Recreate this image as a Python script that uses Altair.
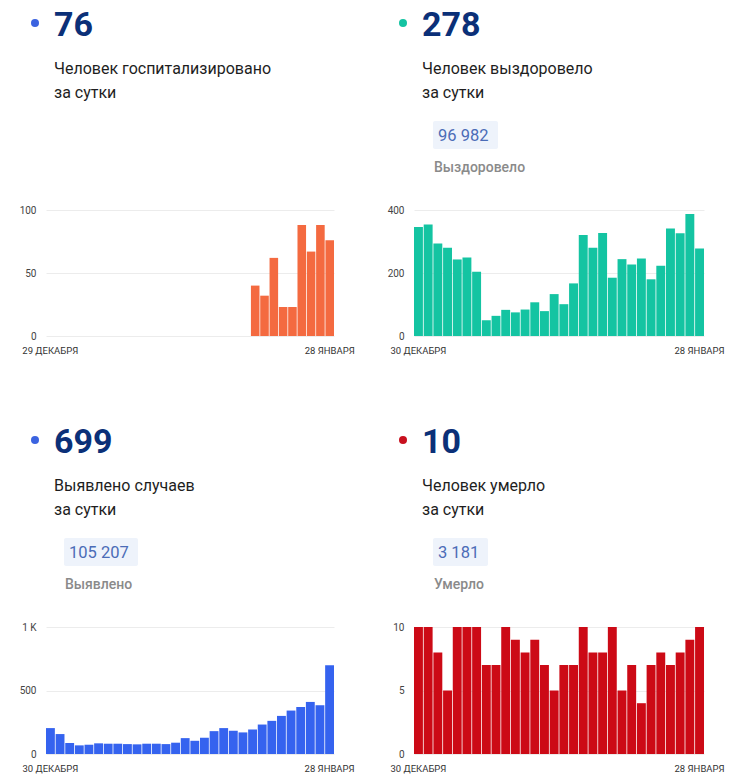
import altair as alt
import pandas as pd

# ---------------- data ----------------
dates_hosp = [d.strftime("%Y-%m-%d") for d in pd.date_range("2020-12-29", "2021-01-28")]
dates_main = [d.strftime("%Y-%m-%d") for d in pd.date_range("2020-12-30", "2021-01-28")]

hosp_dates = dates_hosp[-9:]
hosp_values = [40, 32, 62, 23, 23, 88, 67, 88, 76]

recovered_values = [346, 354, 294, 280, 243, 249, 204, 50, 64, 83, 75, 84, 107, 79, 133,
                    101, 167, 321, 280, 327, 185, 244, 227, 246, 180, 223, 341, 326, 387, 278]

cases_values = [204, 157, 86, 68, 73, 84, 81, 81, 78, 76, 81, 81, 78, 89, 125,
                104, 128, 180, 204, 183, 170, 193, 232, 261, 300, 342, 371, 410, 384, 699]

deaths_values = [10, 10, 8, 5, 10, 10, 10, 7, 7, 10, 9, 8, 9, 7, 5,
                 7, 7, 10, 8, 8, 10, 5, 7, 4, 7, 8, 7, 8, 9, 10]

headlines = ["76", "278", "699", "10"]
title_line1 = ["Человек госпитализировано", "Человек выздоровело", "Выявлено случаев", "Человек умерло"]
title_line2 = ["за сутки", "за сутки", "за сутки", "за сутки"]
totals = ["", "96 982", "105 207", "3 181"]
total_labels = ["", "Выздоровело", "Выявлено", "Умерло"]

x_labels_hosp = ["29 ДЕКАБРЯ", "28 ЯНВАРЯ"]
x_labels_main = ["30 ДЕКАБРЯ", "28 ЯНВАРЯ"]

dot_colors = ["#3b63e0", "#14c3a2", "#3b63e0", "#c8101e"]
bar_colors = {"hosp": "#f46a40", "rec": "#14c4a2", "cases": "#3563ef", "deaths": "#cc0a16"}

FONT = "Roboto"


def bars(dates, values, domain, ymax, yticks, color, width, height, xlabels):
    df = pd.DataFrame({"date": dates, "value": values})
    first, last = domain[0], domain[-1]
    xexpr = f"datum.value == '{first}' ? '{xlabels[0]}' : '{xlabels[1]}'"
    yexpr = "datum.value >= 1000 ? format(datum.value / 1000, 'd') + ' K' : datum.label"
    return alt.Chart(df).mark_bar(color=color).encode(
        x=alt.X("date:O",
                scale=alt.Scale(domain=domain, paddingInner=0.08, paddingOuter=0),
                axis=alt.Axis(values=[first, last], labelExpr=xexpr, title=None, labelAngle=0,
                              ticks=False, tickSize=0, domain=False, grid=False,
                              labelPadding=9, labelFontSize=9.5, labelColor="#333",
                              labelFont=FONT)),
        y=alt.Y("value:Q",
                scale=alt.Scale(domain=[0, ymax], nice=False),
                axis=alt.Axis(values=yticks, title=None, ticks=False, tickSize=0, domain=False,
                              grid=True, gridColor="#ececec", labelPadding=10,
                              labelExpr=yexpr, labelFontSize=10, labelColor="#444",
                              labelFont=FONT)),
    ).properties(width=width, height=height)


def header(i, width, height, base, pill_w, dx):
    layers = [
        alt.Chart().mark_circle(size=64, color=dot_colors[i], opacity=1).encode(
            x=alt.value(-11), y=alt.value(base + 14)),
        alt.Chart().mark_text(text=headlines[i], align="left", baseline="alphabetic", font=FONT,
                              fontSize=34, fontWeight="bold", color="#0b3078").encode(
            x=alt.value(8), y=alt.value(base + 27)),
        alt.Chart().mark_text(text=title_line1[i], align="left", baseline="alphabetic", font=FONT,
                              fontSize=16, color="#1e1e1e").encode(
            x=alt.value(8), y=alt.value(base + 65)),
        alt.Chart().mark_text(text=title_line2[i], align="left", baseline="alphabetic", font=FONT,
                              fontSize=16, color="#1e1e1e").encode(
            x=alt.value(8), y=alt.value(base + 89)),
    ]
    if totals[i]:
        layers += [
            alt.Chart().mark_rect(color="#eef3fb", cornerRadius=2).encode(
                x=alt.value(dx), x2=alt.value(dx + pill_w),
                y=alt.value(base + 112), y2=alt.value(base + 140)),
            alt.Chart().mark_text(text=totals[i], align="left", baseline="alphabetic", font=FONT,
                                  fontSize=16.5, color="#4b6cb7").encode(
                x=alt.value(dx + 5), y=alt.value(base + 132)),
            alt.Chart().mark_text(text=total_labels[i], align="left", baseline="alphabetic",
                                  font=FONT, fontSize=14, fontWeight=500, color="#8a8a8a").encode(
                x=alt.value(dx + 1), y=alt.value(base + 163)),
        ]
    return alt.layer(*layers).properties(width=width, height=height)


WL, WR = 288, 290

hosp = bars(hosp_dates, hosp_values, dates_hosp, 100, [0, 50, 100], bar_colors["hosp"], WL, 126, x_labels_hosp)
rec = bars(dates_main, recovered_values, dates_main, 400, [0, 200, 400], bar_colors["rec"], WR, 126, x_labels_main)
cases = bars(dates_main, cases_values, dates_main, 1000, [0, 500, 1000], bar_colors["cases"], WL, 127, x_labels_main)
deaths = bars(dates_main, deaths_values, dates_main, 10, [0, 5, 10], bar_colors["deaths"], WR, 127, x_labels_main)

chart = alt.concat(
    header(0, WL, 201, 0, 0, 18), header(1, WR, 201, 0, 65, 19),
    hosp, rec,
    header(2, WL, 291, 90, 74, 18), header(3, WR, 291, 90, 55, 19),
    cases, deaths,
    columns=2, spacing={"row": 0, "column": 80}, bounds="flush", align="each",
).properties(
    padding={"left": 10, "top": 0, "right": 5, "bottom": 5}, background="white"
).configure_view(stroke="transparent")

chart.save("out.html", embed_options={"renderer": "svg", "actions": False})
